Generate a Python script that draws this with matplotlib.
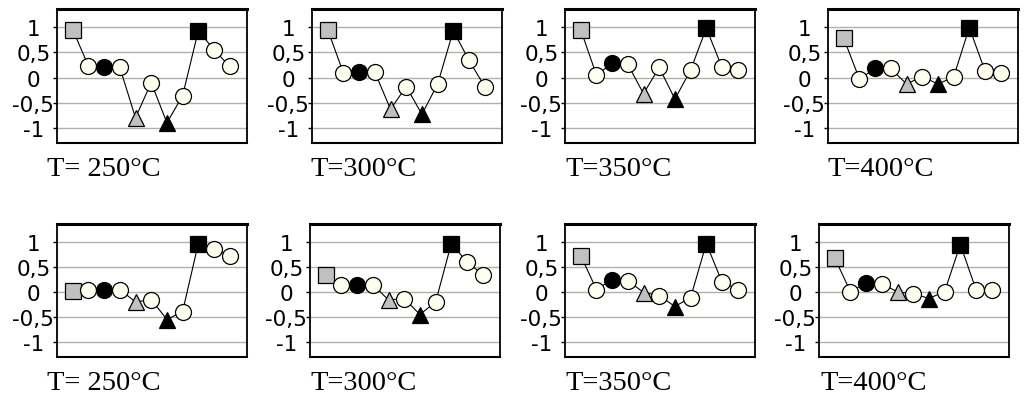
import matplotlib.pyplot as plt

# 温度标签
temps = ["T= 250°C", "T=300°C", "T=350°C", "T=400°C"]

# 上排数据（每个面板 11 个点）
top_250 = [0.95, 0.23, 0.20, 0.20, -0.80, -0.10, -0.90, -0.36, 0.93, 0.55, 0.22]
top_300 = [0.95, 0.09, 0.11, 0.11, -0.63, -0.18, -0.73, -0.13, 0.93, 0.34, -0.18]
top_350 = [0.95, 0.05, 0.28, 0.26, -0.32, 0.20, -0.43, 0.15, 0.98, 0.20, 0.15]
top_400 = [0.78, -0.03, 0.18, 0.18, -0.13, 0.02, -0.13, 0.01, 0.99, 0.13, 0.09]

# 下排数据
bot_250 = [0.02, 0.04, 0.05, 0.05, -0.20, -0.15, -0.55, -0.39, 0.97, 0.87, 0.73]
bot_300 = [0.35, 0.15, 0.15, 0.15, -0.16, -0.13, -0.45, -0.20, 0.97, 0.60, 0.35]
bot_350 = [0.73, 0.05, 0.25, 0.23, -0.01, -0.07, -0.29, -0.11, 0.97, 0.20, 0.05]
bot_400 = [0.68, 0.01, 0.18, 0.17, 0.00, -0.03, -0.13, 0.01, 0.95, 0.05, 0.05]

top_rows = [top_250, top_300, top_350, top_400]
bot_rows = [bot_250, bot_300, bot_350, bot_400]

yticks = [-1, -0.5, 0, 0.5, 1]
ytick_labels = ["-1", "-0,5", "0", "0,5", "1"]

# 每个点的标记样式：(marker, 填充色)
GRAY = "#c0c0c0"
IVORY = "#fffff0"
styles = [("s", GRAY), ("o", IVORY), ("o", "black"), ("o", IVORY), ("^", GRAY),
          ("o", IVORY), ("^", "black"), ("o", IVORY), ("s", "black"),
          ("o", IVORY), ("o", IVORY)]

W, H = 1024, 402
fig = plt.figure(figsize=(W / 100, H / 100), dpi=100)

# 面板位置（像素）
top_lefts = [57, 312, 565, 828]
bot_lefts = [57, 310, 565, 819]
top_text_x = [47, 310, 565, 827]
bot_text_x = [47, 310, 565, 820]
box_w = 190


def draw_panel(left, top, bottom, vals):
    ax = fig.add_axes([left / W, 1 - bottom / H, box_w / W, (bottom - top) / H])
    x = list(range(len(vals)))
    ax.plot(x, vals, color="black", lw=0.8, zorder=2)
    for i, v in enumerate(vals):
        m, fc = styles[i]
        ms = 11.5 if m != "^" else 12
        ax.plot(i, v, marker=m, ms=ms, mfc=fc, mec="black", mew=0.9,
                ls="none", zorder=3, clip_on=False)
    ax.set_xlim(-1, 11.1)
    ax.set_ylim(-1.3, 1.36)
    for yv in yticks:
        ax.axhline(yv, color="#b4b0a4", lw=1.0, zorder=1)
    ax.set_xticks([])
    ax.set_yticks(yticks)
    ax.set_yticklabels(ytick_labels, fontsize=15.5, family="DejaVu Sans")
    for lab in ax.get_yticklabels():
        lab.set_horizontalalignment("center")
    ax.tick_params(axis="y", length=3, width=1, pad=14, direction="out")
    ax.spines["top"].set_linewidth(2.2)
    ax.spines["right"].set_linewidth(1.3)
    ax.spines["left"].set_linewidth(1.3)
    ax.spines["bottom"].set_linewidth(1.5)
    return ax


for k in range(4):
    draw_panel(top_lefts[k], 10, 144, top_rows[k])
    fig.text(top_text_x[k] / W, 1 - 170 / H, temps[k], fontsize=20.5,
             family="Liberation Serif", ha="left", va="center")
    draw_panel(bot_lefts[k], 225, 358, bot_rows[k])
    fig.text(bot_text_x[k] / W, 1 - 384 / H, temps[k], fontsize=20.5,
             family="Liberation Serif", ha="left", va="center")

fig.savefig("out.png", dpi=100)
